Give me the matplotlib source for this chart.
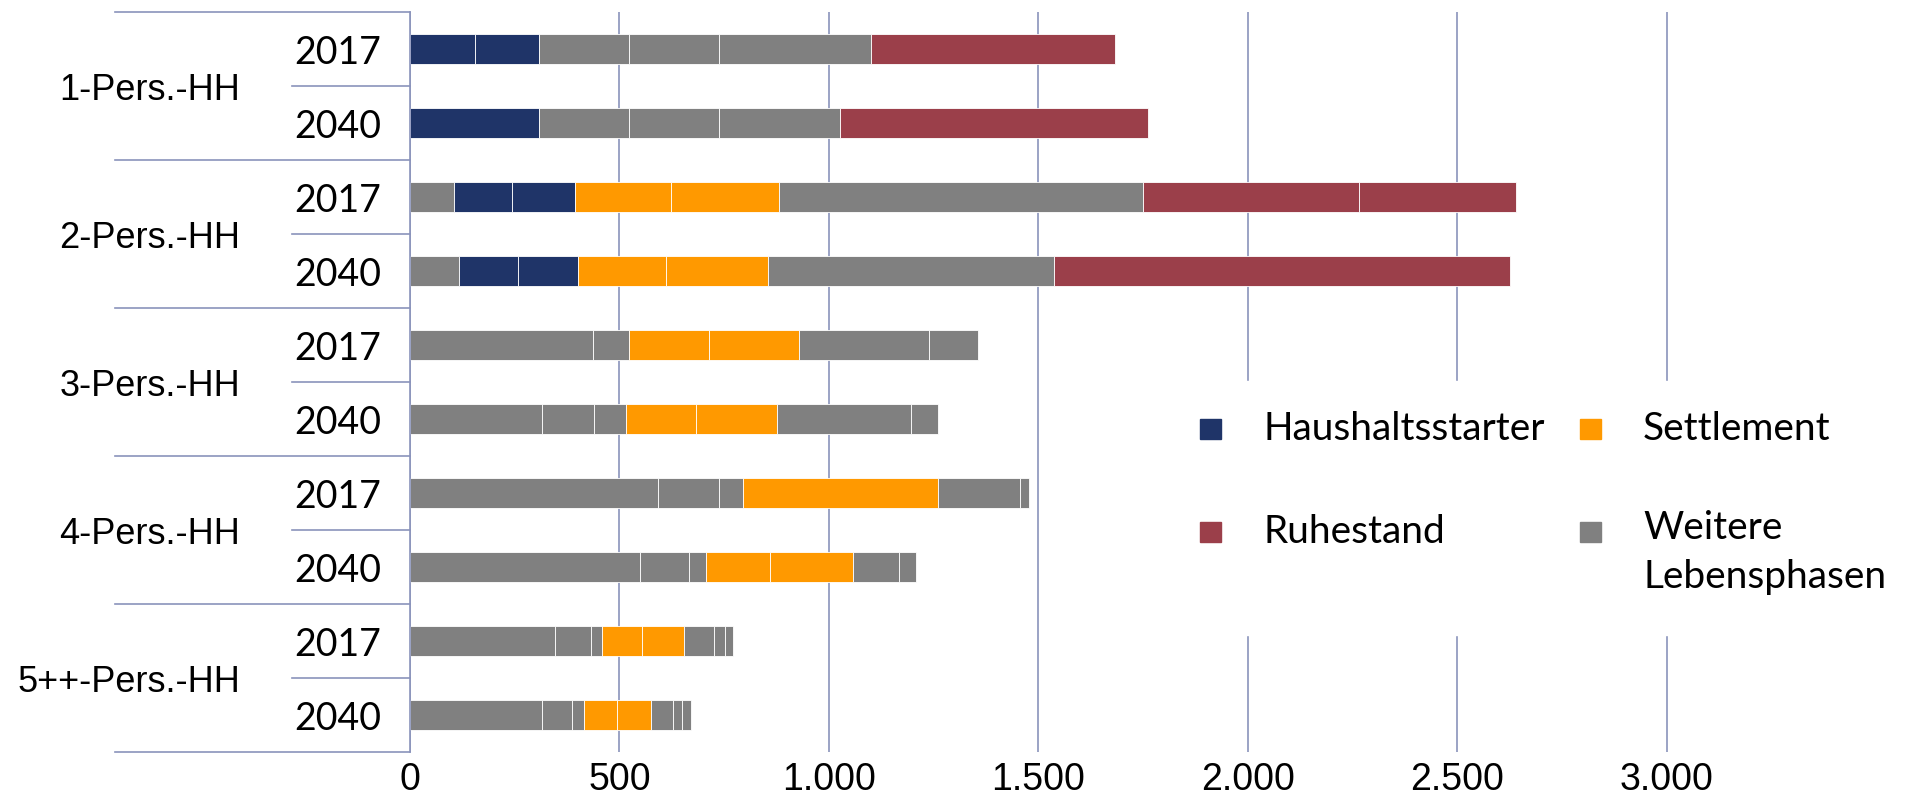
import matplotlib
matplotlib.use('Agg')
import matplotlib.pyplot as plt
from matplotlib.patches import Rectangle

# Haushalte nach Groesse und Lebensphase (2017 / 2040)
groups = ['1-Pers.-HH', '2-Pers.-HH', '3-Pers.-HH', '4-Pers.-HH', '5++-Pers.-HH']
years = ['2017', '2040']

# pieces of every bar, left to right: (phase, value)
# H = Haushaltsstarter, S = Settlement, R = Ruhestand, W = Weitere Lebensphasen
seg_1p_2017 = [('H', 154), ('H', 154), ('W', 216), ('W', 214), ('W', 362), ('R', 582)]
seg_1p_2040 = [('H', 308), ('W', 216), ('W', 214), ('W', 288), ('R', 735)]
seg_2p_2017 = [('W', 104), ('H', 139), ('H', 150), ('S', 230), ('S', 259), ('W', 868), ('R', 516), ('R', 374)]
seg_2p_2040 = [('W', 117), ('H', 140), ('H', 143), ('S', 212), ('S', 242), ('W', 683), ('R', 1088)]
seg_3p_2017 = [('W', 437), ('W', 87), ('S', 191), ('S', 213), ('W', 310), ('W', 117)]
seg_3p_2040 = [('W', 314), ('W', 125), ('W', 77), ('S', 168), ('S', 192), ('W', 319), ('W', 65)]
seg_4p_2017 = [('W', 592), ('W', 146), ('W', 57), ('S', 465), ('W', 196), ('W', 22)]
seg_4p_2040 = [('W', 549), ('W', 117), ('W', 41), ('S', 153), ('S', 197), ('W', 110), ('W', 42)]
seg_5p_2017 = [('W', 345), ('W', 86), ('W', 27), ('S', 96), ('S', 101), ('W', 71), ('W', 25), ('W', 21)]
seg_5p_2040 = [('W', 315), ('W', 71), ('W', 30), ('S', 79), ('S', 81), ('W', 51), ('W', 23), ('W', 21)]

bars = [seg_1p_2017, seg_1p_2040, seg_2p_2017, seg_2p_2040, seg_3p_2017,
        seg_3p_2040, seg_4p_2017, seg_4p_2040, seg_5p_2017, seg_5p_2040]

phase_order = ['H', 'S', 'R', 'W']
phase_names = {'H': 'Haushaltsstarter', 'S': 'Settlement',
               'R': 'Ruhestand', 'W': 'Weitere\nLebensphasen'}
phase_colors = {'H': '#1f3468', 'S': '#ff9900', 'R': '#9b3f4a', 'W': '#808080'}

xticks = [0, 500, 1000, 1500, 2000, 2500, 3000]
xtick_labels = ['0', '500', '1.000', '1.500', '2.000', '2.500', '3.000']

line_col = '#8a93bb'
W, H = 1910, 805


def px(x, y):
    # pixel position (from top left) -> figure fraction
    return x / W, 1 - y / H


fig = plt.figure(figsize=(W / 100, H / 100), dpi=100)
ax = fig.add_axes([410 / W, 53 / H, 1466 / W, 740 / H])

for i, segs in enumerate(bars):
    left = 0
    for phase, val in segs:
        ax.barh(i, val, left=left, height=0.41, color=phase_colors[phase],
                edgecolor='white', linewidth=0.6)
        left += val

ax.set_xlim(0, 3500)
ax.set_ylim(len(bars) - 0.5, -0.5)
ax.set_xticks(xticks)
ax.set_xticklabels(xtick_labels, family='Liberation Sans', fontsize=27)
ax.set_yticks(range(len(bars)))
ax.set_yticklabels(years * len(groups), family='Lato', fontsize=27)
ax.tick_params(axis='x', length=0, pad=7)
ax.tick_params(axis='y', length=0, pad=21)
ax.grid(axis='x', color=line_col, linewidth=1.2)
ax.set_axisbelow(True)
for s in ['top', 'right', 'bottom']:
    ax.spines[s].set_visible(False)
ax.spines['left'].set_color(line_col)
ax.spines['left'].set_linewidth(1.2)

# group labels and separator lines left of the axis
tr = ax.get_yaxis_transform()
for g, name in enumerate(groups):
    ax.text(-0.116, 2 * g + 0.56, name, transform=tr, ha='right', va='center',
            family='Liberation Sans', fontsize=26)
    ax.plot([-0.0805, 0], [2 * g + 0.5] * 2, color=line_col, lw=1.2,
            transform=tr, clip_on=False)
for yb in range(-1, len(bars), 2):
    ax.plot([-0.2012, 0], [yb + 0.5] * 2, color=line_col, lw=1.2,
            transform=tr, clip_on=False)

# legend box (white, hides the grid behind it), two columns
bx, by = px(1190, 635)
fig.patches.append(Rectangle((bx, by), (1880 - 1190) / W, (635 - 381) / H,
                             transform=fig.transFigure, color='white'))
leg_x = [1200, 1580]
leg_y = [429, 532]
for k, phase in enumerate(phase_order):
    cx, cy = leg_x[k % 2], leg_y[k // 2]
    x0, y0 = px(cx, cy + 10)
    fig.patches.append(Rectangle((x0, y0), 21 / W, 20 / H, transform=fig.transFigure,
                                 color=phase_colors[phase]))
    tx, ty = px(cx + 63, cy)
    if '\n' in phase_names[phase]:
        tx, ty = px(cx + 63, cy - 22)
        fig.text(tx, ty, phase_names[phase], ha='left', va='top', family='Lato',
                 fontsize=28, linespacing=1.45)
    else:
        fig.text(tx, ty, phase_names[phase], ha='left', va='center', family='Lato',
                 fontsize=28)

fig.savefig('out.png', dpi=100)
